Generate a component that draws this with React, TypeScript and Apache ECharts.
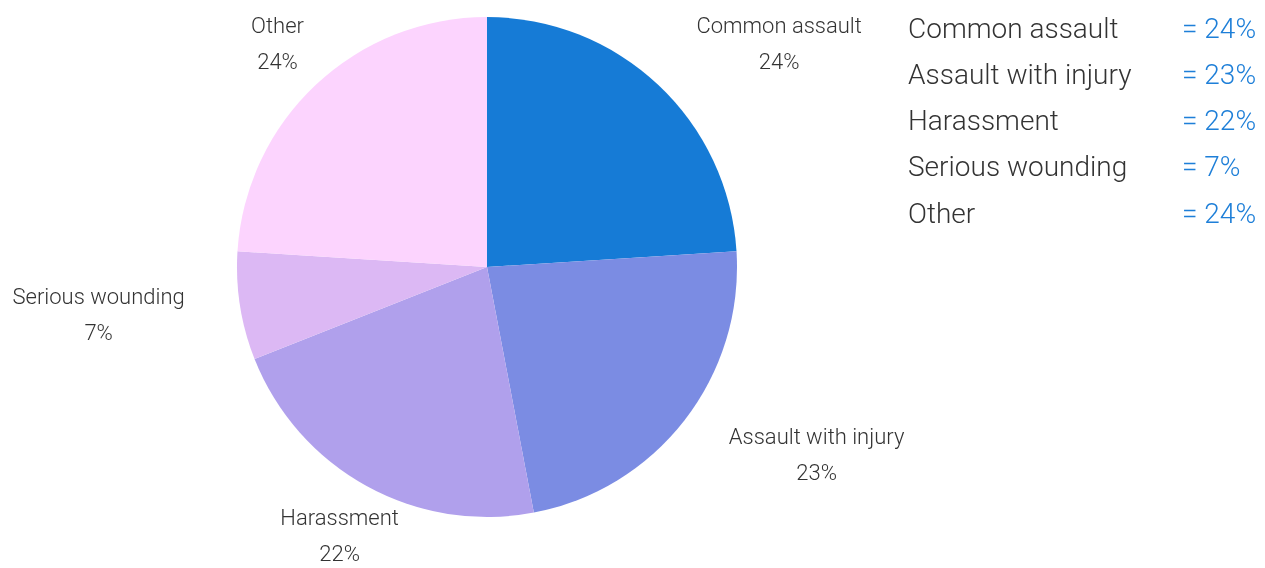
import React, { useEffect, useRef } from "react";
import * as echarts from "echarts";

const categories = ["Common assault", "Assault with injury", "Harassment", "Serious wounding", "Other"];
const values = [24, 23, 22, 7, 24];
const colors = ["#167bd6", "#7b8ce3", "#b0a0ec", "#dcb8f4", "#fcd4fe"];

const FONT = "Roboto";
const CX = 487;
const CY = 267;
const R = 250;
const LABEL_R = 306;

export default function App() {
  const ref = useRef<HTMLDivElement>(null);
  useEffect(() => {
    if (!ref.current) return;
    const chart = echarts.init(ref.current, null, { renderer: "svg" });
    const total = values.reduce((a, b) => a + b, 0);
    const cum: number[] = [];
    values.reduce((acc, v, i) => { cum[i] = acc; return acc + v; }, 0);

    chart.setOption({
      animation: false,
      legend: {
        orient: "vertical",
        left: 898,
        top: 9,
        icon: "none",
        itemWidth: 0,
        itemHeight: 0,
        itemGap: 18.3,
        selectedMode: false,
        data: categories,
        formatter: (name: string) => {
          const i = categories.indexOf(name);
          return `{n|${name}}{v|= ${values[i]}%}`;
        },
        textStyle: {
          fontFamily: FONT,
          fontWeight: 300,
          rich: {
            n: { fontFamily: FONT, fontWeight: 300, fontSize: 28, color: "#333", width: 274 },
            v: { fontFamily: FONT, fontWeight: 300, fontSize: 28, color: "#1e7fd8" },
          },
        },
      },
      series: [
        {
          type: "pie",
          center: [CX, CY],
          radius: R,
          startAngle: 90,
          clockwise: true,
          color: colors,
          data: categories.map((c, i) => ({ name: c, value: values[i] })),
          label: {
            show: true,
            position: "outside",
            formatter: (p: any) => `{a|${p.name}}\n{a|${values[p.dataIndex]}%}`,
            rich: {
              a: { fontFamily: FONT, fontWeight: 300, fontSize: 22, color: "#333", lineHeight: 36, align: "center" },
            },
          },
          labelLine: { show: false },
          emphasis: { disabled: true },
          labelLayout: (params: any) => {
            const i = params.dataIndex;
            const mid = ((90 - (360 * (cum[i] + values[i] / 2)) / total) * Math.PI) / 180;
            const px = CX + LABEL_R * Math.cos(mid);
            const py = CY - LABEL_R * Math.sin(mid);
            const w = params.labelRect.width;
            const h = params.labelRect.height;
            const x0 = px - w / 2, x1 = px + w / 2, y0 = py - h / 2, y1 = py + h / 2;
            const nx = Math.max(x0, Math.min(CX, x1));
            const ny = Math.max(y0, Math.min(CY, y1));
            const overlap = Math.hypot(nx - CX, ny - CY) < R;
            let align = "center";
            if (overlap) align = Math.cos(mid) > 0 ? "left" : "right";
            return { x: px, y: py, align, verticalAlign: "middle" };
          },
        },
      ],
    });
    return () => chart.dispose();
  }, []);
  return <div ref={ref} style={{ position: "fixed", left: 0, top: 0, width: 1265, height: 568 }} />;
}
